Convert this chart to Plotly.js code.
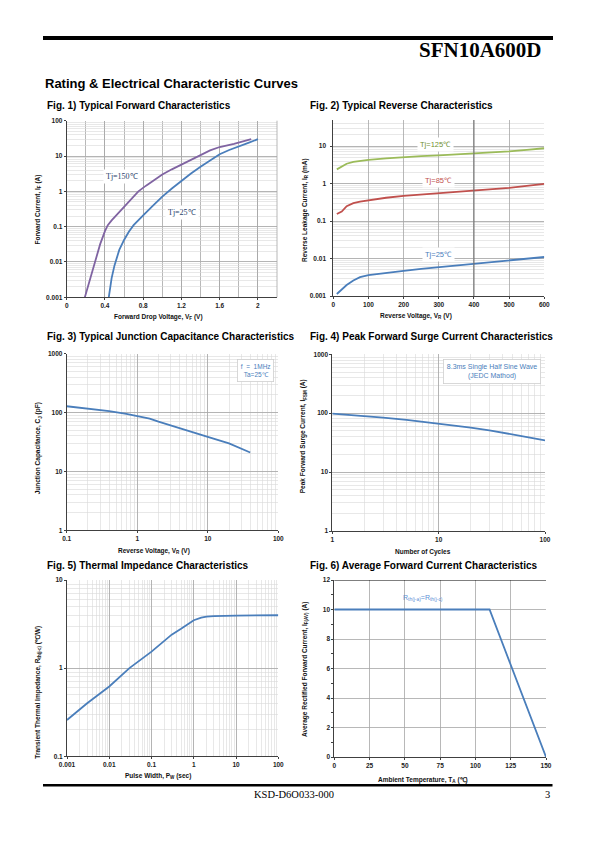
<!DOCTYPE html>
<html><head><meta charset="utf-8">
<script src="https://cdn.plot.ly/plotly-3.0.1.min.js"></script>
<style>html,body{margin:0;padding:0;background:#fff}#chart{width:595px;height:842px}</style>
</head><body><div id="chart"></div>
<script>
// ---------- DATA ----------
// Fig.1 Typical Forward Characteristics
const f1_vf_150 = [0.19, 0.24, 0.30, 0.35, 0.40, 0.43, 0.47, 0.52, 0.60, 0.68, 0.75, 0.83, 0.90, 1.0, 1.1, 1.2, 1.3, 1.4, 1.5, 1.6, 1.75, 1.93];
const f1_if_150 = [0.001, 0.003, 0.0105, 0.032, 0.075, 0.11, 0.15, 0.21, 0.36, 0.62, 1.0, 1.45, 2.0, 3.0, 4.2, 5.7, 7.8, 10.7, 14.5, 18, 22, 30];
const f1_vf_25 = [0.44, 0.47, 0.50, 0.55, 0.60, 0.65, 0.70, 0.75, 0.80, 0.90, 1.0, 1.1, 1.2, 1.3, 1.4, 1.5, 1.6, 1.7, 1.8, 1.9, 2.0];
const f1_if_25 = [0.001, 0.0035, 0.008, 0.022, 0.042, 0.072, 0.11, 0.155, 0.21, 0.39, 0.71, 1.2, 2.0, 3.2, 5.0, 7.6, 11.2, 14.8, 18.4, 23.5, 30];
const f1_xticks = [0, 0.4, 0.8, 1.2, 1.6, 2.0];
const f1_xlabels = ['0', '0.4', '0.8', '1.2', '1.6', '2'];
const f1_yticks = [0.001, 0.01, 0.1, 1, 10, 100];
const f1_ylabels = ['0.001', '0.01', '0.1', '1', '10', '100'];

// Fig.2 Typical Reverse Characteristics
const f2_vr = [10, 24, 38, 57, 76, 100, 150, 200, 250, 300, 350, 400, 450, 500, 550, 600];
const f2_ir_125 = [2.4, 2.8, 3.4, 3.8, 4.0, 4.3, 4.7, 5.1, 5.4, 5.7, 6.0, 6.35, 6.8, 7.3, 8.0, 8.8];
const f2_ir_85 = [0.155, 0.18, 0.25, 0.30, 0.33, 0.36, 0.42, 0.47, 0.51, 0.55, 0.59, 0.64, 0.70, 0.77, 0.87, 0.98];
const f2_ir_25 = [0.00113, 0.00145, 0.00197, 0.0026, 0.0032, 0.0036, 0.0042, 0.0047, 0.0053, 0.0059, 0.0065, 0.0072, 0.0080, 0.0089, 0.0099, 0.011];
const f2_xticks = [0, 100, 200, 300, 400, 500, 600];
const f2_xlabels = ['0', '100', '200', '300', '400', '500', '600'];
const f2_yticks = [0.001, 0.01, 0.1, 1, 10];
const f2_ylabels = ['0.001', '0.01', '0.1', '1', '10'];

// Fig.3 Typical Junction Capacitance
const f3_vr = [0.1, 0.2, 0.4, 0.7, 1, 1.5, 2, 3, 5, 7, 10, 20, 30, 40];
const f3_cj = [128, 117, 106, 95, 88, 79, 70, 60, 49, 43, 38.5, 30, 24.5, 21];
const f3_xticks = [0.1, 1, 10, 100];
const f3_xlabels = ['0.1', '1', '10', '100'];
const f3_yticks = [1, 10, 100, 1000];
const f3_ylabels = ['1', '10', '100', '1000'];

// Fig.4 Peak Forward Surge Current
const f4_cycles = [1, 2, 3, 5, 7, 10, 20, 30, 50, 70, 100];
const f4_ifsm = [98, 90, 84, 77, 72, 67, 57, 51, 44, 39, 34.5];
const f4_xticks = [1, 10, 100];
const f4_xlabels = ['1', '10', '100'];
const f4_yticks = [1, 10, 100, 1000];
const f4_ylabels = ['1', '10', '100', '1000'];

// Fig.5 Thermal Impedance
const f5_pw = [0.001, 0.003, 0.01, 0.03, 0.1, 0.2, 0.3, 0.5, 0.7, 1, 1.5, 2, 3, 5, 10, 100];
const f5_rth = [0.258, 0.40, 0.62, 1.0, 1.54, 2.05, 2.4, 2.8, 3.15, 3.5, 3.75, 3.85, 3.9, 3.93, 3.95, 3.98];
const f5_xticks = [0.001, 0.01, 0.1, 1, 10, 100];
const f5_xlabels = ['0.001', '0.01', '0.1', '1', '10', '100'];
const f5_yticks = [0.1, 1, 10];
const f5_ylabels = ['0.1', '1', '10'];

// Fig.6 Average Forward Current
const f6_ta = [0, 110, 150];
const f6_ifav = [10, 10, 0];
const f6_xticks = [0, 25, 50, 75, 100, 125, 150];
const f6_xlabels = ['0', '25', '50', '75', '100', '125', '150'];
const f6_yticks = [0, 2, 4, 6, 8, 10, 12];
const f6_ylabels = ['0', '2', '4', '6', '8', '10', '12'];

// ---------- LAYOUT HELPERS ----------
const W = 595, H = 842;
const PX = v => v / W;
const PY = v => 1 - v / H;
const dx = (a, b) => [PX(a), PX(b)];
const dy = (top, bot) => [PY(bot), PY(top)];

const gridMajor = '#a6a6a6', gridMinor = '#d9d9d9';
const NARROW = 'Liberation Sans Narrow, Liberation Sans, Arial, sans-serif';
const SANS = 'Liberation Sans, Arial, sans-serif';
const SERIF = 'Liberation Serif, Times New Roman, serif';
const tickFont = {family: NARROW, size: 6.5, color: '#222', weight: 'bold'};

function baseAxis(domain, anchor) {
  return {domain, anchor, showline: true, linecolor: '#404040', linewidth: 1,
    ticks: 'outside', ticklen: 2, tickcolor: '#404040', tickfont: tickFont,
    showgrid: true, gridcolor: gridMajor, gridwidth: 0.8, zeroline: false,
    fixedrange: true, automargin: false};
}
function logAx(domain, anchor, range, vals, labels) {
  return Object.assign(baseAxis(domain, anchor), {type: 'log', range,
    tickmode: 'array', tickvals: vals, ticktext: labels,
    minor: {dtick: 'D1', showgrid: true, gridcolor: gridMinor, gridwidth: 0.6, ticks: ''}});
}
function linAx(domain, anchor, range, vals, labels) {
  return Object.assign(baseAxis(domain, anchor), {type: 'linear', range,
    tickmode: 'array', tickvals: vals, ticktext: labels});
}

const BLUE = '#4a7ebb', PURPLE = '#8064a2', GREEN = '#9bbb59', RED = '#c0504d';
function line(x, y, xa, ya, color) {
  return {type: 'scatter', mode: 'lines', x, y, xaxis: xa, yaxis: ya,
    line: {color, width: 1.8}, showlegend: false, hoverinfo: 'skip'};
}

const traces = [
  line(f1_vf_150, f1_if_150, 'x', 'y', PURPLE),
  line(f1_vf_25, f1_if_25, 'x', 'y', BLUE),
  line(f2_vr, f2_ir_125, 'x2', 'y2', GREEN),
  line(f2_vr, f2_ir_85, 'x2', 'y2', RED),
  line(f2_vr, f2_ir_25, 'x2', 'y2', BLUE),
  line(f3_vr, f3_cj, 'x3', 'y3', BLUE),
  line(f4_cycles, f4_ifsm, 'x4', 'y4', BLUE),
  line(f5_pw, f5_rth, 'x5', 'y5', BLUE),
  line(f6_ta, f6_ifav, 'x6', 'y6', BLUE)
];

function paperText(text, x, y, font, xanchor, yanchor, extra) {
  return Object.assign({text, xref: 'paper', yref: 'paper', x: PX(x), y: PY(y),
    xanchor: xanchor || 'left', yanchor: yanchor || 'middle', showarrow: false, font}, extra || {});
}
const figFont = {family: SANS, size: 10, color: '#000', weight: 'bold'};
const axTitleFont = {family: NARROW, size: 6.5, color: '#111', weight: 'bold'};
function xTitle(text, x, y) { return paperText(text, x, y, axTitleFont, 'center', 'middle'); }
function yTitle(text, x, y) { return paperText(text, x, y, axTitleFont, 'center', 'middle', {textangle: -90}); }

const annotations = [
  paperText('SFN10A600D', 543.5, 49.5, {family: SERIF, size: 21, color: '#000', weight: 'bold'}, 'right', 'middle'),
  paperText('Rating &amp; Electrical Characteristic Curves', 43, 83.5, {family: SANS, size: 13, color: '#000', weight: 'bold'}),
  paperText('Fig. 1) Typical Forward Characteristics', 44.5, 106, figFont),
  paperText('Fig. 2) Typical Reverse Characteristics', 308, 106, figFont),
  paperText('Fig. 3) Typical Junction Capacitance Characteristics', 44.5, 336.5, figFont),
  paperText('Fig. 4) Peak Forward Surge Current Characteristics', 308, 336.5, figFont),
  paperText('Fig. 5) Thermal Impedance Characteristics', 44.5, 565.5, figFont),
  paperText('Fig. 6) Average Forward Current Characteristics', 308, 565.5, figFont),
  paperText('KSD-D6O033-000', 251.5, 794, {family: SERIF, size: 10.5, color: '#000'}),
  paperText('3', 552, 794, {family: SERIF, size: 10.5, color: '#000'}, 'right'),

  xTitle('Forward Drop Voltage, V<sub>F</sub> (V)', 158, 317),
  yTitle('Forward Current, I<sub>F</sub> (A)', 37.5, 210),
  xTitle('Reverse Voltage, V<sub>R</sub> (V)', 416, 315.5),
  yTitle('Reverse Leakage Current, I<sub>R</sub> (mA)', 305, 210),
  xTitle('Reverse Voltage, V<sub>R</sub> (V)', 154, 550.5),
  yTitle('Junction Capacitance, C<sub>J</sub> (pF)', 38.3, 448),
  xTitle('Number of Cycles', 423, 551.5),
  yTitle('Peak Forward Surge Current, I<sub>FSM</sub> (A)', 303.3, 436),
  xTitle('Pulse Width, P<sub>W</sub> (sec)', 158, 776),
  yTitle('Transient Thermal Impedance, R<sub>th(j-c)</sub> (℃/W)', 37.7, 692),
  xTitle('Ambient Temperature, T<sub>A</sub> (℃)', 423, 780),
  yTitle('Average Rectified Forward Current, I<sub>F(AV)</sub> (A)', 305, 670),

  // in-plot labels
  {text: 'Tj=150℃', xref: 'x', yref: 'y', x: 0.577, y: Math.log10(2.6), showarrow: false,
   font: {family: SERIF, size: 8, color: '#2a3f6a'}, bgcolor: '#fff', borderpad: 2},
  {text: 'Tj=25℃', xref: 'x', yref: 'y', x: 1.21, y: Math.log10(0.26), showarrow: false,
   font: {family: SERIF, size: 8, color: '#2a3f6a'}, bgcolor: '#fff', borderpad: 2},
  {text: 'Tj=125℃', xref: 'x2', yref: 'y2', x: 290, y: 1.045, showarrow: false,
   font: {family: SANS, size: 7.5, color: '#6f8f30'}, bgcolor: '#fff', borderpad: 2},
  {text: 'Tj=85℃', xref: 'x2', yref: 'y2', x: 298, y: 0.08, showarrow: false,
   font: {family: SANS, size: 7.5, color: RED}, bgcolor: '#fff', borderpad: 2},
  {text: 'Tj=25℃', xref: 'x2', yref: 'y2', x: 298, y: -1.885, showarrow: false,
   font: {family: SANS, size: 7.5, color: BLUE}, bgcolor: '#fff', borderpad: 2},
  paperText('f  =  1MHz<br>Ta=25℃', 255.5, 370, {family: SANS, size: 6.5, color: BLUE}, 'center', 'middle',
   {bgcolor: '#fff', bordercolor: '#cfcfcf', borderwidth: 0.8, borderpad: 3, align: 'center'}),
  paperText('8.3ms Single Half Sine Wave<br>(JEDC Mathod)', 492, 371.5, {family: SANS, size: 7, color: BLUE}, 'center', 'middle',
   {bgcolor: '#fff', bordercolor: '#cfcfcf', borderwidth: 0.8, borderpad: 3, align: 'center'}),
  {text: 'R<sub>th(j-a)</sub>=R<sub>th(j-c)</sub>', xref: 'x6', yref: 'y6', x: 63, y: 10.8, showarrow: false,
   font: {family: SANS, size: 7, color: '#5b8fd6'}}
];

const shapes = [
  {type: 'rect', xref: 'paper', yref: 'paper', x0: PX(43), x1: PX(553), y0: PY(40), y1: PY(36), fillcolor: '#000', line: {width: 0}},
  {type: 'rect', xref: 'paper', yref: 'paper', x0: PX(43), x1: PX(552.5), y0: PY(786.5), y1: PY(784), fillcolor: '#000', line: {width: 0}},
  {type: 'line', xref: 'x domain', yref: 'y domain', x0: 1, x1: 1, y0: 0, y1: 1, line: {color: gridMajor, width: 0.8}},
  {type: 'line', xref: 'x2', yref: 'y2 domain', x0: 400, x1: 400, y0: 0, y1: 1, line: {color: '#6e6e6e', width: 1}},
  {type: 'line', xref: 'x6 domain', yref: 'y6', x0: 0, x1: 1, y0: 12, y1: 12, line: {color: '#000', width: 1.2}}
];

const layout = {
  width: W, height: H, margin: {l: 0, r: 0, t: 0, b: 0}, paper_bgcolor: '#fff', plot_bgcolor: '#fff',
  showlegend: false, font: {family: SANS, size: 7, color: '#222'},
  xaxis: Object.assign(linAx(dx(66.7, 277), 'y', [0, 2.2], f1_xticks, f1_xlabels),
    {minor: {dtick: 0.2, tick0: 0, showgrid: true, gridcolor: gridMajor, gridwidth: 0.8, ticks: ''}}),
  yaxis: logAx(dy(120.7, 297.3), 'x', [-3, 2], f1_yticks, f1_ylabels),
  xaxis2: linAx(dx(333.3, 544.3), 'y2', [0, 600], f2_xticks, f2_xlabels),
  yaxis2: Object.assign(logAx(dy(120, 296), 'x2', [-3, Math.log10(50)], f2_yticks, f2_ylabels), {ticklabelstandoff: 3}),
  xaxis3: logAx(dx(66.7, 278.3), 'y3', [-1, 2], f3_xticks, f3_xlabels),
  yaxis3: logAx(dy(353.7, 530.3), 'x3', [0, 3], f3_yticks, f3_ylabels),
  xaxis4: logAx(dx(332.3, 545), 'y4', [0, 2], f4_xticks, f4_xlabels),
  yaxis4: logAx(dy(354.3, 531), 'x4', [0, 3], f4_yticks, f4_ylabels),
  xaxis5: logAx(dx(67, 278.3), 'y5', [-3, 2], f5_xticks, f5_xlabels),
  yaxis5: logAx(dy(580, 756.3), 'x5', [-1, 1], f5_yticks, f5_ylabels),
  xaxis6: linAx(dx(334.3, 546), 'y6', [0, 150], f6_xticks, f6_xlabels),
  yaxis6: Object.assign(linAx(dy(580, 757), 'x6', [0, 12], f6_yticks, f6_ylabels),
    {minor: {dtick: 1, ticks: 'outside', ticklen: 2, tickcolor: '#404040', showgrid: false}}),
  annotations, shapes
};

Plotly.newPlot('chart', traces, layout, {staticPlot: true, displayModeBar: false});
</script>
</body></html>
